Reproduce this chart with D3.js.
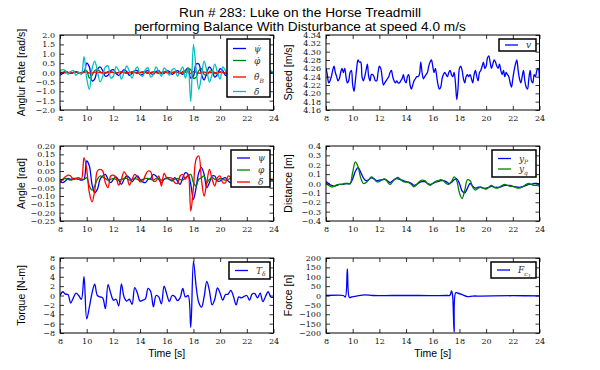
<!DOCTYPE html>
<html>
<head>
<meta charset="utf-8">
<script src="https://cdn.jsdelivr.net/npm/d3@7"></script>
<style>body{margin:0;background:#fff}</style>
</head>
<body>
<script>
// sample grids (s)
const tStart = 8, tStep = 0.2, nGrid = 81;
const speedStep = 0.1, nSpeed = 161;

const xTicks = [8, 10, 12, 14, 16, 18, 20, 22, 24];
const rateTicks = [-2, -1.5, -1, -0.5, 0, 0.5, 1, 1.5, 2];
const speedTicks = [4.16, 4.18, 4.20, 4.22, 4.24, 4.26, 4.28, 4.30, 4.32, 4.34];
const angleTicks = [-0.25, -0.2, -0.15, -0.1, -0.05, 0, 0.05, 0.1, 0.15, 0.2];
const distTicks = [-0.4, -0.3, -0.2, -0.1, 0, 0.1, 0.2, 0.3, 0.4];
const torqueTicks = [-8, -6, -4, -2, 0, 2, 4, 6, 8];
const forceTicks = [-200, -150, -100, -50, 0, 50, 100, 150, 200];

// angular rates [rad/s]
const psiRate = [-0.15,-0.05,0.05,0.0,-0.05,0.0,0.05,-0.05,0.0,0.0,
  0.5,0.3,-0.45,-0.35,0.15,0.3,0.1,-0.2,-0.15,0.1,
  0.15,-0.05,-0.15,0.0,0.15,0.05,-0.15,-0.05,0.1,0.1,
  -0.1,-0.1,0.05,0.1,-0.05,-0.1,0.05,0.1,-0.05,-0.05,
  0.1,0.05,-0.1,0.0,0.1,0.0,-0.1,0.1,0.25,-0.3,
  -0.2,0.45,0.45,-0.1,-0.4,0.0,0.3,0.1,-0.25,-0.1,
  0.2,0.1,-0.15,0.0,0.1,0.0,-0.1,0.05,0.05,-0.05,
  -0.05,0.05,0.0,-0.05,0.05,0.0,-0.05,0.05,0.0,-0.05,0.0];
const phiRate = [-0.05,0.0,0.05,0.0,-0.05,0.0,0.05,0.0,-0.05,0.05,
  0.1,-0.3,-0.15,0.1,0.15,0.05,-0.05,-0.05,0.05,0.05,
  0.0,-0.05,0.0,0.05,0.0,-0.05,0.0,0.05,0.0,-0.05,
  0.0,0.05,0.0,-0.05,0.0,0.05,0.0,-0.05,0.0,0.05,
  0.0,-0.05,0.0,0.05,0.0,-0.05,0.05,0.1,0.2,0.15,
  -0.3,-0.25,0.1,0.2,-0.1,-0.15,0.05,0.1,-0.05,-0.05,
  0.05,0.0,-0.05,0.05,0.0,-0.05,0.0,0.05,0.0,-0.05,
  0.0,0.05,0.0,-0.05,0.0,0.05,0.0,-0.05,0.0,0.05,0.0];
const thetaRate = [0.02,0.0,-0.02,0.01,0.0,-0.01,0.01,0.0,-0.01,0.02,
  0.03,-0.03,-0.02,0.02,0.01,-0.01,0.0,0.01,-0.01,0.0,
  0.01,0.0,-0.01,0.0,0.01,0.0,-0.01,0.0,0.01,0.0,
  -0.01,0.0,0.01,0.0,-0.01,0.0,0.01,0.0,-0.01,0.0,
  0.01,0.0,-0.01,0.0,0.01,0.0,-0.01,0.02,0.03,-0.05,
  0.04,0.02,-0.03,-0.01,0.02,0.0,-0.01,0.01,0.0,-0.01,
  0.01,0.0,-0.01,0.0,0.01,0.0,-0.01,0.0,0.01,0.0,
  -0.01,0.0,0.01,0.0,-0.01,0.0,0.01,0.0,-0.01,0.0,0.0];
const deltaRate = [0.1,0.15,0.1,-0.1,0.05,0.1,-0.15,0.0,-0.1,0.85,
  -0.3,-0.9,0.2,0.6,0.1,-0.5,-0.2,0.3,0.35,-0.3,
  -0.2,0.3,0.1,-0.35,0.0,0.35,0.05,-0.3,0.1,0.3,
  -0.1,-0.2,0.15,0.25,-0.25,-0.1,0.3,0.05,-0.2,0.25,
  0.1,-0.15,0.15,0.2,-0.2,0.05,0.3,-0.3,0.2,-1.55,
  1.5,0.2,-0.9,-0.2,0.6,0.1,-0.5,-0.1,0.45,0.0,
  -0.35,0.3,0.1,-0.3,0.1,0.2,-0.2,-0.1,0.2,0.05,
  -0.15,0.1,0.15,-0.1,-0.05,0.15,0.0,-0.15,0.1,0.1,-0.05];

// speed [m/s], 0.1 s steps
const speed = [4.26,4.245,4.225,4.23,4.24,4.255,4.265,4.25,4.24,4.23,
  4.235,4.25,4.26,4.25,4.26,4.24,4.225,4.23,4.25,4.255,
  4.22,4.205,4.23,4.26,4.28,4.275,4.275,4.24,4.23,4.24,
  4.255,4.27,4.24,4.23,4.245,4.245,4.24,4.23,4.23,4.25,
  4.265,4.26,4.24,4.22,4.225,4.23,4.235,4.24,4.25,4.255,
  4.24,4.23,4.225,4.23,4.225,4.225,4.23,4.235,4.245,4.23,
  4.225,4.24,4.245,4.22,4.21,4.22,4.23,4.235,4.24,4.24,
  4.245,4.275,4.25,4.235,4.24,4.245,4.25,4.265,4.275,4.28,
  4.265,4.25,4.26,4.24,4.22,4.21,4.215,4.235,4.245,4.25,
  4.245,4.24,4.25,4.255,4.245,4.24,4.25,4.225,4.185,4.215,
  4.26,4.265,4.255,4.235,4.225,4.24,4.245,4.24,4.245,4.235,
  4.225,4.245,4.255,4.24,4.23,4.25,4.255,4.265,4.275,4.26,
  4.265,4.285,4.29,4.275,4.26,4.27,4.28,4.275,4.265,4.26,
  4.27,4.255,4.245,4.255,4.24,4.25,4.245,4.24,4.225,4.215,
  4.235,4.255,4.27,4.28,4.255,4.235,4.225,4.24,4.255,4.23,
  4.215,4.21,4.235,4.255,4.23,4.225,4.245,4.24,4.255,4.26,4.235];

// angles [rad]
const psiAng = [-0.01,-0.02,-0.01,0.005,0.0,0.005,0.005,0.0,-0.005,0.0,
  0.11,0.08,-0.03,-0.08,-0.06,0.0,0.02,0.03,0.0,-0.02,
  0.0,0.015,-0.005,-0.03,0.0,0.02,0.01,-0.015,0.005,0.02,
  0.0,-0.015,-0.02,0.0,0.005,0.03,0.02,0.0,-0.02,0.0,
  0.01,0.0,-0.01,0.01,-0.01,-0.03,0.01,0.04,0.03,-0.03,
  -0.12,-0.05,0.04,0.07,0.03,-0.05,-0.02,0.02,0.02,-0.01,
  -0.01,0.005,0.01,-0.01,-0.02,0.0,0.01,0.0,-0.01,0.0,
  0.01,0.0,-0.01,0.0,0.01,0.0,-0.01,0.0,0.01,0.0,-0.005];
const phiAng = [-0.005,0.0,0.005,0.0,-0.005,0.0,0.005,0.0,0.0,0.0,
  0.01,-0.04,-0.065,-0.04,0.0,0.02,0.015,0.005,-0.005,0.0,
  0.005,0.0,-0.005,0.0,0.005,0.005,-0.005,0.0,0.005,0.0,
  -0.005,0.0,0.005,0.005,0.0,-0.005,0.005,0.005,-0.005,0.0,
  0.005,0.0,-0.005,0.0,0.005,0.0,-0.005,0.01,0.02,0.03,
  -0.02,-0.04,0.0,0.01,0.02,-0.02,0.0,0.01,0.0,-0.005,
  0.005,0.0,-0.005,0.0,0.005,0.0,-0.005,0.0,0.005,0.0,
  -0.005,0.0,0.005,0.0,-0.005,0.0,0.005,0.0,-0.005,-0.01,-0.01];
const deltaAng = [-0.02,0.0,0.015,0.025,0.02,0.0,0.005,0.01,0.0,0.13,
  0.06,-0.08,-0.135,-0.07,0.05,0.06,0.05,-0.02,-0.05,0.02,
  0.025,0.01,-0.035,0.0,0.045,0.02,-0.035,0.0,0.03,0.015,
  -0.015,-0.01,0.025,0.05,0.045,-0.01,-0.01,0.02,-0.04,0.035,
  0.01,0.01,0.005,-0.02,-0.025,0.02,0.03,0.0,0.03,-0.19,
  -0.05,0.12,0.14,0.0,-0.1,-0.02,0.06,0.0,-0.04,0.01,
  0.02,-0.02,-0.02,0.02,0.01,-0.01,0.0,0.01,-0.01,0.0,
  0.01,-0.01,0.0,0.01,0.0,-0.01,0.0,0.01,-0.01,0.0,0.0];

// lateral distances [m]
const yP = [0.02,0.0,-0.02,-0.03,-0.02,-0.01,-0.01,-0.005,0.0,0.0,
  0.05,0.13,0.17,0.12,0.06,0.03,0.04,0.06,0.05,0.03,
  0.035,0.04,0.045,0.03,0.01,0.03,0.05,0.05,0.04,0.03,
  0.02,0.015,0.0,-0.02,-0.01,0.01,0.02,0.02,0.0,-0.01,
  0.0,0.015,0.02,0.03,0.03,0.02,0.0,0.01,0.04,0.05,
  0.0,-0.08,-0.1,-0.05,0.0,-0.03,-0.05,-0.04,-0.04,-0.05,
  -0.05,-0.04,-0.03,-0.04,-0.04,-0.04,-0.03,-0.02,-0.02,-0.02,
  -0.03,-0.035,-0.04,-0.04,-0.03,-0.02,-0.01,-0.01,0.0,0.0,-0.01];
const yQ = [0.0,-0.02,-0.035,-0.03,-0.015,-0.01,-0.01,0.0,0.0,-0.005,
  0.12,0.23,0.18,0.06,0.0,0.01,0.04,0.07,0.05,0.02,
  0.02,0.04,0.05,0.02,-0.01,0.02,0.05,0.065,0.04,0.02,
  0.015,0.01,-0.01,-0.035,-0.01,0.02,0.035,0.03,0.0,-0.02,
  0.0,0.02,0.03,0.04,0.03,0.0,-0.01,0.02,0.07,0.03,
  -0.1,-0.16,-0.07,0.04,0.03,-0.04,-0.07,-0.05,-0.04,-0.05,
  -0.06,-0.04,-0.02,-0.04,-0.05,-0.04,-0.02,-0.01,-0.02,-0.03,
  -0.03,-0.04,-0.05,-0.045,-0.03,-0.01,0.0,-0.01,-0.02,-0.02,-0.03];

// steer torque [N-m]
const torque = [0.0,0.8,0.3,0.2,-1.6,-0.5,0.5,0.0,-0.8,4.0,
  -5.0,-2.5,0.5,2.4,0.0,-0.3,-0.5,-2.8,2.3,0.5,
  -1.0,-0.8,-2.2,2.5,-0.3,-1.2,-0.8,-1.9,1.7,0.5,
  -1.2,-1.0,-0.7,1.5,0.8,-2.4,0.0,-0.3,-1.8,2.0,
  0.3,-1.3,0.0,-0.2,-1.1,-0.5,1.5,-0.3,0.0,-6.8,
  7.3,2.0,-1.5,-2.5,-0.3,3.0,1.0,-2.0,-0.8,1.6,
  0.5,-1.0,0.2,0.3,1.1,-0.2,-2.0,-0.3,-0.5,-0.2,
  0.0,-1.0,0.3,0.4,-0.5,0.5,-1.3,-0.2,0.8,-0.3,-0.4];

// contact force [n], irregular samples
const forceTime = [8, 9.3, 9.45, 9.6, 9.75, 9.9, 10.3, 10.9, 11.5, 13, 15, 17, 17.3, 17.4, 17.48, 17.6, 17.72, 17.9, 18.2, 18.6, 19.0, 19.6, 20.5, 22, 24];
const force = [0, 0, -8, 142, -10, -8, -3, 3, 0, 0, 0, 0, 2, 25, 5, -195, 15, 12, 5, -6, -3, -3, -2, -1, -2];

const grid = d3.range(nGrid).map(i => tStart + i * tStep);
const speedGrid = d3.range(nSpeed).map(i => tStart + i * speedStep);

const blue = "#0000ff", green = "#008000", red = "#ff0000", cyan = "#00bfbf";
const dot = "\u0307";

// legend labels: [text, kind]  n = normal, s = sub, ss = sub-sub
const panels = [
  {col: 0, row: 0, ylabel: "Anglur Rate [rad/s]", ticks: rateTicks, fmt: ".1f",
   series: [
     {t: grid, v: psiRate, c: blue, lab: [["ψ" + dot, "n"]]},
     {t: grid, v: phiRate, c: green, lab: [["φ" + dot, "n"]]},
     {t: grid, v: thetaRate, c: red, lab: [["θ" + dot, "n"], ["B", "s"]]},
     {t: grid, v: deltaRate, c: cyan, lab: [["δ" + dot, "n"]]}],
   legend: {w: 43, h: 58, rows: [9.5, 21.5, 38, 52.5]}},
  {col: 1, row: 0, ylabel: "Speed [m/s]", ticks: speedTicks, fmt: ".2f",
   series: [{t: speedGrid, v: speed, c: blue, lab: [["v", "n"]]}],
   legend: {w: 37, h: 12, rows: [6]}},
  {col: 0, row: 1, ylabel: "Angle [rad]", ticks: angleTicks, fmt: ".2f",
   series: [
     {t: grid, v: psiAng, c: blue, lab: [["ψ", "n"]]},
     {t: grid, v: phiAng, c: green, lab: [["φ", "n"]]},
     {t: grid, v: deltaAng, c: red, lab: [["δ", "n"]]}],
   legend: {w: 39, h: 37, rows: [8, 20, 32]}},
  {col: 1, row: 1, ylabel: "Distance [m]", ticks: distTicks, fmt: ".1f",
   series: [
     {t: grid, v: yP, c: blue, lab: [["y", "n"], ["P", "s"]]},
     {t: grid, v: yQ, c: green, lab: [["y", "n"], ["q", "s"]]}],
   legend: {w: 44, h: 27, rows: [8.5, 19]}},
  {col: 0, row: 2, ylabel: "Torque [N-m]", ticks: torqueTicks, fmt: "d",
   series: [{t: grid, v: torque, c: blue, lab: [["T", "n"], ["δ", "s"]]}],
   legend: {w: 41, h: 17, rows: [8.5]}},
  {col: 1, row: 2, ylabel: "Force [n]", ticks: forceTicks, fmt: "d",
   series: [{t: forceTime, v: force, c: blue, lab: [["F", "n"], ["c", "s"], ["1", "ss"]]}],
   legend: {w: 45, h: 16, rows: [8]}}
];

const colX = [60, 326], rowY = [35, 146, 258];
const pw = 213.5, ph = 75;

const svg = d3.select("body").append("svg")
  .attr("width", 600).attr("height", 370)
  .attr("font-family", "'Liberation Sans', Arial, sans-serif");

svg.append("text").attr("x", 300).attr("y", 17).attr("text-anchor", "middle")
  .attr("font-size", 13.7).text("Run # 283: Luke on the Horse Treadmill");
svg.append("text").attr("x", 300).attr("y", 30.5).attr("text-anchor", "middle")
  .attr("font-size", 13.7).text("performing Balance With Disturbance at speed 4.0 m/s");

function styleAxis(g) {
  g.select(".domain").remove();
  g.attr("font-family", "'DejaVu Serif', serif").attr("font-size", 8);
  g.selectAll("line").attr("stroke", "#000").attr("stroke-width", 0.8);
  g.selectAll("text").attr("fill", "#111");
}

const kinds = {
  n: {size: 9, off: 0},
  s: {size: 6, off: 2.5},
  ss: {size: 5, off: 4.5}
};

panels.forEach((p, i) => {
  const g = svg.append("g").attr("transform", `translate(${colX[p.col]},${rowY[p.row]})`);
  const x = d3.scaleLinear().domain([8, 24]).range([0, pw]);
  const y = d3.scaleLinear().domain(d3.extent(p.ticks)).range([ph, 0]);

  g.append("clipPath").attr("id", "clip" + i)
    .append("rect").attr("width", pw).attr("height", ph);

  p.series.forEach(s => {
    const line = d3.line().x((d, j) => x(s.t[j])).y(d => y(d))
      .curve(d3.curveCatmullRom.alpha(0.5));
    g.append("path").attr("clip-path", `url(#clip${i})`)
      .attr("d", line(s.v)).attr("fill", "none")
      .attr("stroke", s.c).attr("stroke-width", 1.3).attr("stroke-linejoin", "round");
  });

  g.append("g").call(d3.axisLeft(y).tickValues(p.ticks).tickFormat(d3.format(p.fmt))
    .tickSize(-4).tickPadding(5)).call(styleAxis);
  g.append("g").attr("transform", `translate(${pw},0)`)
    .call(d3.axisRight(y).tickValues(p.ticks).tickFormat("").tickSize(-4)).call(styleAxis);
  g.append("g").attr("transform", `translate(0,${ph})`)
    .call(d3.axisBottom(x).tickValues(xTicks).tickFormat(d3.format("d"))
      .tickSize(-4).tickPadding(5)).call(styleAxis);
  g.append("g").call(d3.axisTop(x).tickValues(xTicks).tickFormat("").tickSize(-4)).call(styleAxis);

  g.append("rect").attr("width", pw).attr("height", ph)
    .attr("fill", "none").attr("stroke", "#000").attr("stroke-width", 1);

  // legend
  const L = p.legend;
  const lg = g.append("g").attr("transform", `translate(${pw - 3.5 - L.w},4)`);
  lg.append("rect").attr("width", L.w).attr("height", L.h)
    .attr("fill", "#fff").attr("stroke", "#000").attr("stroke-width", 1.5);
  p.series.forEach((s, k) => {
    const yy = L.rows[k];
    lg.append("line").attr("x1", 6).attr("x2", 19).attr("y1", yy).attr("y2", yy)
      .attr("stroke", s.c).attr("stroke-width", 1.3);
    const tx = lg.append("text").attr("x", 27).attr("y", yy + 3)
      .attr("font-family", "'DejaVu Serif', serif").attr("font-style", "italic")
      .attr("fill", "#333");
    let shift = 0;
    s.lab.forEach(([str, kind]) => {
      const K = kinds[kind];
      tx.append("tspan").attr("dy", K.off - shift)
        .attr("font-size", K.size).text(str);
      shift = K.off;
    });
  });

  // y label
  const lx = p.col === 0 ? 25 : 292;
  svg.append("text")
    .attr("transform", `translate(${lx},${rowY[p.row] + ph / 2}) rotate(-90)`)
    .attr("text-anchor", "middle").attr("font-size", 10.5).text(p.ylabel);

  if (p.row === 2) {
    svg.append("text").attr("x", colX[p.col] + pw / 2).attr("y", 357)
      .attr("text-anchor", "middle").attr("font-size", 10.5).text("Time [s]");
  }
});
</script>
</body>
</html>
